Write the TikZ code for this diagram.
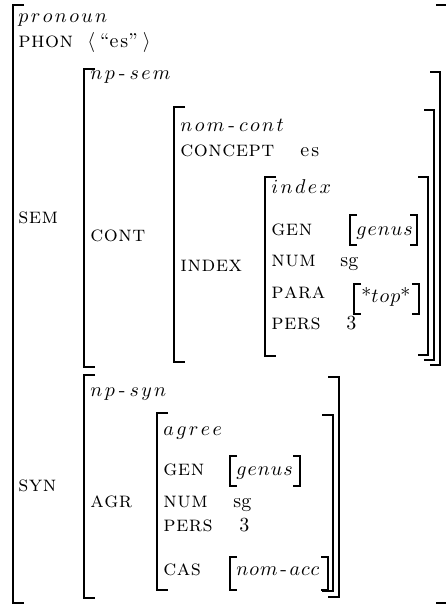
\documentclass[tikz,border=0pt]{standalone}
\makeatletter
\newcommand\lsp[2]{{\def\lsp@k{}\@tfor\lsp@c:=#2\do{\lsp@k\lsp@c\def\lsp@k{\kern#1}}}}
\makeatother
\newcommand\hy{\kern0.8pt\mbox{-}\kern0.8pt}
\newcommand\ty[1]{$\lsp{1.2pt}{#1}$}
\newcommand\vl[1]{$\lsp{0.5pt}{#1}$}
\newcommand\lb[1]{\lsp{0.25pt}{#1}}
\begin{document}
\begin{tikzpicture}[x=1pt,y=-1pt,
  lbl/.style={anchor=base west, inner sep=0pt, scale=2, font=\fontsize{11}{13}\selectfont\scshape},
  typ/.style={anchor=base west, inner sep=0pt, scale=2, font=\fontsize{10}{12}\selectfont},
  brk/.style={line width=2.2pt, line join=miter},
  sbrk/.style={line width=2pt, line join=miter}]
\useasboundingbox (0,0) rectangle (445,605);
% ---------- brackets ----------
% outer
\draw[brk] (24,5) -- (13,5) -- (13,603) -- (24,603);
\draw[brk] (436,5) -- (447,5) -- (447,603) -- (436,603);
% np-sem
\draw[brk] (95,69) -- (84,69) -- (84,367) -- (95,367);
\draw[brk] (430,72) -- (440,72) -- (440,365) -- (430,365);
% nom-cont
\draw[brk] (185,107) -- (174,107) -- (174,362) -- (185,362);
\draw[brk] (424,110) -- (434,110) -- (434,360) -- (424,360);
% index
\draw[brk] (276,177) -- (265,177) -- (265,356) -- (276,356);
\draw[brk] (418,177) -- (428,177) -- (428,355) -- (418,355);
% genus (index)
\draw[sbrk] (357,215) -- (350,215) -- (350,245) -- (357,245);
\draw[sbrk] (410,215) -- (417,215) -- (417,245) -- (410,245);
% *top*
\draw[sbrk] (361,284) -- (354,284) -- (354,314) -- (361,314);
\draw[sbrk] (412,284) -- (419,284) -- (419,314) -- (412,314);
% np-syn
\draw[brk] (95,375) -- (84,375) -- (84,598) -- (95,598);
\draw[brk] (328,377) -- (339,377) -- (339,597) -- (328,597);
% agree
\draw[brk] (168,413) -- (157,413) -- (157,590) -- (168,590);
\draw[brk] (322,415) -- (333,415) -- (333,591) -- (322,591);
% genus (agree)
\draw[sbrk] (237,456) -- (230,456) -- (230,486) -- (237,486);
\draw[sbrk] (293,456) -- (300,456) -- (300,486) -- (293,486);
% nom-acc
\draw[sbrk] (237,557) -- (230,557) -- (230,590) -- (237,590);
\draw[sbrk] (321,557) -- (328,557) -- (328,590) -- (321,590);
% ---------- text ----------
\node[typ] (pronoun) at (18,23) {\ty{pronoun}};
\node[lbl] (phon) at (18,47) {\lb{phon}};
\node[typ] (es1) at (87,47) {$\langle$\kern2.5pt``\lsp{1pt}{es}''\kern2.5pt$\rangle$};
\node[lbl] (sem) at (18,223) {\lb{sem}};
\node[typ] (npsem) at (90,79) {\ty{np\hy sem}};
\node[lbl] (cont) at (90,241) {\lb{cont}};
\node[typ] (nomcont) at (180,131) {\ty{nom\hy cont}};
\node[lbl] (concept) at (180,156) {\lb{concept}};
\node[typ] (es2) at (300,156) {\lsp{1pt}{es}};
\node[lbl] (indexl) at (180,271) {\lb{index}};
\node[typ] (indext) at (271,193) {\ty{index}};
\node[lbl] (gen1) at (271,235) {\lb{gen}};
\node[typ] (genus1) at (356,235) {\vl{genus}};
\node[lbl] (num1) at (271,266) {\lb{num}};
\node[typ] (sg1) at (340,266) {sg};
\node[lbl] (para) at (271,298) {\lb{para}};
\node[typ] (top) at (361,302) {*\vl{top}*};
\node[lbl] (pers1) at (271,329) {\lb{pers}};
\node[typ] (three1) at (346,329) {3};
\node[lbl] (syn) at (18,491) {\lb{syn}};
\node[typ] (npsyn) at (90,396) {\ty{np\hy syn}};
\node[lbl] (agr) at (90,507) {\lb{agr}};
\node[typ] (agree) at (163,435) {\ty{agree}};
\node[lbl] (gen2) at (163,475) {\lb{gen}};
\node[typ] (genus2) at (236,475) {\vl{genus}};
\node[lbl] (num2) at (163,507) {\lb{num}};
\node[typ] (sg2) at (233,507) {sg};
\node[lbl] (pers2) at (163,531) {\lb{pers}};
\node[typ] (three2) at (239,531) {3};
\node[lbl] (cas) at (163,575) {\lb{cas}};
\node[typ] (nomacc) at (236,575) {\vl{nom\hy acc}};
\end{tikzpicture}
\end{document}
